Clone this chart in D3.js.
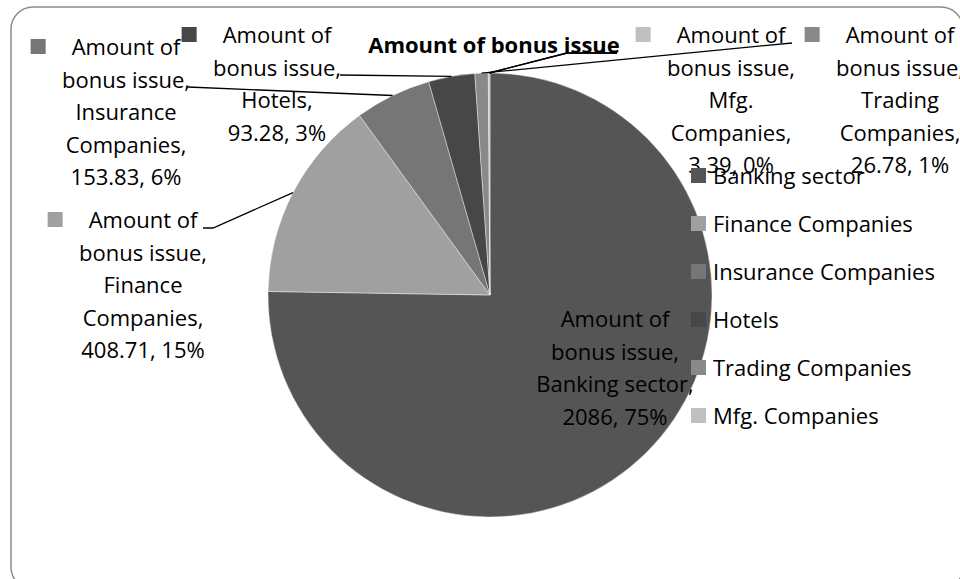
<!DOCTYPE html>
<html>
<head>
<meta charset="utf-8">
<script src="https://cdn.jsdelivr.net/npm/d3@7"></script>
<style>
  html, body { margin: 0; padding: 0; background: #fff; }
  svg { display: block; }
  text { font-family: "Open Sans", "Noto Sans", sans-serif; fill: #000; }
</style>
</head>
<body>
<svg id="chart" width="960" height="579"></svg>
<script>
// ---- data ----
const seriesNameLines = ["Amount of", "bonus issue"];
const categories = ["Banking sector", "Finance Companies", "Insurance Companies", "Hotels", "Trading Companies", "Mfg. Companies"];
const values = [2086, 408.71, 153.83, 93.28, 26.78, 3.39];
const labelNameLines = [["Banking sector,"], ["Finance", "Companies,"], ["Insurance", "Companies,"], ["Hotels,"], ["Trading", "Companies,"], ["Mfg.", "Companies,"]];
const colors = ["#555555", "#a0a0a0", "#767676", "#474747", "#898989", "#c0c0c0"];

// ---- layout ----
const W = 960, H = 579;
const cx = 490, cy = 295, R = 222;
const labelPos = [[615, 327], [143, 228], [126, 55], [277, 43], [900, 43], [731, 43]];
const labelHasKey = [false, true, true, true, true, true];
const leaderEnd = [null, [[213, 228], [203, 228]], [[188, 87]], [[340, 75]], [[792, 43]], [[567, 53], [617, 53]]];
const lineH = 32.5;
const fontSize = 22;

const svg = d3.select("#chart");

// border
svg.append("rect")
  .attr("x", 11).attr("y", 7)
  .attr("width", 952).attr("height", 582)
  .attr("rx", 22).attr("ry", 22)
  .attr("fill", "#fff")
  .attr("stroke", "#8c8c8c")
  .attr("stroke-width", 1.5);

const total = d3.sum(values);
const pct = d3.format(".0%");
const data = categories.map((c, i) => ({ cat: c, value: values[i], i }));

const pie = d3.pie().sort(null).value(d => d.value).startAngle(0).endAngle(2 * Math.PI);
const arcs = pie(data);
const arc = d3.arc().innerRadius(0).outerRadius(R);
const edgeArc = d3.arc().innerRadius(R).outerRadius(R);

const g = svg.append("g").attr("transform", `translate(${cx},${cy})`);
g.selectAll("path.slice")
  .data(arcs)
  .enter().append("path")
  .attr("class", "slice")
  .attr("d", arc)
  .attr("fill", d => colors[d.data.i])
  .attr("stroke", "#ffffff")
  .attr("stroke-width", 0.4);

// leader lines
const lineGen = d3.line();
arcs.forEach(a => {
  const ends = leaderEnd[a.data.i];
  if (!ends) return;
  const p = edgeArc.centroid(a);
  const pts = [[p[0] + cx, p[1] + cy], ...ends];
  svg.append("path")
    .attr("d", lineGen(pts))
    .attr("fill", "none")
    .attr("stroke", "#000")
    .attr("stroke-width", 1.3);
});

// data labels
data.forEach(d => {
  const [lx, ly] = labelPos[d.i];
  const lines = [seriesNameLines[0], seriesNameLines[1] + ",", ...labelNameLines[d.i], `${d.value}, ${pct(d.value / total)}`];
  const t = svg.append("text")
    .attr("text-anchor", "middle")
    .style("font-size", fontSize + "px");
  lines.forEach((ln, k) => {
    t.append("tspan").attr("x", lx).attr("y", ly + k * lineH).text(ln);
  });
  if (labelHasKey[d.i]) {
    const w = t.select("tspan").node().getComputedTextLength();
    svg.append("rect")
      .attr("x", lx - w / 2 - 41)
      .attr("y", ly - 16)
      .attr("width", 15).attr("height", 15)
      .attr("fill", colors[d.i]);
  }
});

// legend
const legend = svg.append("g").attr("transform", "translate(691,176)");
const rowH = 48;
data.forEach(d => {
  const row = legend.append("g").attr("transform", `translate(0,${d.i * rowH})`);
  row.append("rect").attr("x", 0).attr("y", -8).attr("width", 15).attr("height", 15).attr("fill", colors[d.i]);
  row.append("text").attr("x", 22).attr("y", 8).style("font-size", fontSize + "px").text(d.cat);
});

// title
svg.append("text")
  .attr("x", 494).attr("y", 53)
  .attr("text-anchor", "middle")
  .style("font-size", "22px")
  .style("font-weight", "bold")
  .text(seriesNameLines.join(" "));

// redraw the Mfg leader on top of the title, as in the reference
arcs.filter(a => a.data.i === 5).forEach(a => {
  const p = edgeArc.centroid(a);
  svg.append("path")
    .attr("d", lineGen([[p[0] + cx, p[1] + cy], ...leaderEnd[5]]))
    .attr("fill", "none").attr("stroke", "#000").attr("stroke-width", 1.3);
});
</script>
</body>
</html>
